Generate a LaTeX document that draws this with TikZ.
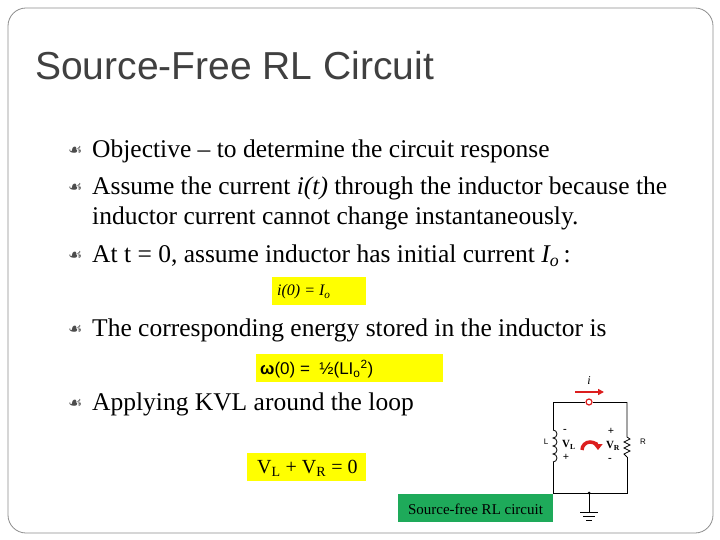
\documentclass[tikz,border=0pt]{standalone}
\usepackage{fontspec}
\setmainfont{Liberation Serif}
\newfontfamily\arial{Liberation Sans}
\newfontfamily\dejavu{DejaVu Sans}
\usetikzlibrary{arrows.meta}
\definecolor{hl}{RGB}{255,255,0}
\definecolor{grn}{RGB}{30,170,90}
\definecolor{wred}{RGB}{220,30,30}
\tikzset{
  txt/.style={anchor=west,inner sep=0,font=\fontsize{25.5}{30}\selectfont},
  bul/.style={anchor=west,inner sep=0,font=\dejavu\fontsize{16}{18}\selectfont,text=black!70},
  ybox/.style={fill=hl,draw=none,anchor=west,inner sep=0,minimum height=28pt},
  wire/.style={line width=0.8pt},
  lbl/.style={inner sep=0,font=\fontsize{11}{12}\selectfont\bfseries}
}
\begin{document}
\begin{tikzpicture}[x=1pt,y=-1pt]
\useasboundingbox (0,0) rectangle (720,540);
\draw[black!45,line width=0.8pt,rounded corners=18pt] (8,8) rectangle (713,533);
\node[anchor=west,inner sep=0,font=\arial\fontsize{39}{44}\selectfont,text=black!75] (title) at (35,66) {Source-Free RL Circuit};
\node[bul] (b1) at (68,151) {☙};
\node[txt] (t1) at (92,151) {Objective -- to determine the circuit response};
\node[bul] (b2) at (68,188) {☙};
\node[txt] (t2) at (92,188) {Assume the current \textit{i(t)} through the inductor because the};
\node[txt] (t2b) at (92,218) {inductor current cannot change instantaneously.};
\node[bul] (b3) at (68,256) {☙};
\node[txt] (t3) at (92,256) {At t = 0, assume inductor has initial current \textit{I\textsubscript{o}}\,:};
\node[ybox,minimum width=94pt] (y1) at (272,291) {};
\node[anchor=west,inner sep=0,font=\fontsize{16}{18}\selectfont] (e1) at (277,292) {\textit{i(0) = I\textsubscript{o}}};
\node[bul] (b4) at (68,330) {☙};
\node[txt] (t4) at (92,330) {The corresponding energy stored in the inductor is};
\node[ybox,minimum width=187pt] (y2) at (256,368) {};
\node[anchor=west,inner sep=0,font=\arial\fontsize{17}{19}\selectfont] (e2) at (260,369) {\textbf{ω}(0) =\ \ ½(LI\textsubscript{o}\textsuperscript{2})};
\node[bul] (b5) at (68,404) {☙};
\node[txt] (t5) at (92,404) {Applying KVL around the loop};
\node[ybox,minimum width=119pt] (y3) at (247,467) {};
\node[anchor=west,inner sep=0,font=\fontsize{20}{22}\selectfont] (e3) at (257,468) {V\textsubscript{L} + V\textsubscript{R} = 0};
\node[fill=grn,anchor=west,inner sep=0,minimum width=155pt,minimum height=28pt] (g) at (398,508) {};
\node[anchor=center,inner sep=0,font=\fontsize{15}{17}\selectfont] (gt) at (475.5,509) {Source-free RL circuit};
% circuit
\coordinate (tl) at (553,402); \coordinate (tr) at (627,402);
\coordinate (bl) at (553,493); \coordinate (br) at (627,493);
\coordinate (gnd) at (589,493); \coordinate (gb) at (589,512);
\node[circle,draw=wred,line width=1.2pt,fill=white,inner sep=0,minimum size=6pt] (sw) at (589,402) {};
\draw[wire] (tl) -- (sw) -- (tr);
\draw[wire] (tl) -- (553,430);
\draw[wire] (553,430) arc[start angle=270,end angle=450,radius=4] arc[start angle=270,end angle=450,radius=4] arc[start angle=270,end angle=450,radius=4] arc[start angle=270,end angle=450,radius=4];
\draw[wire] (553,462) -- (bl) -- (br) -- (627,457);
\draw[wire] (tr) -- (627,437) -- (630,439) -- (624,442) -- (630,445) -- (624,448) -- (630,451) -- (624,454) -- (627,457);
\fill (gnd) circle (1.5);
\draw[wire] (gnd) -- (gb);
\draw[wire] (580,512) -- (598,512) (583,516) -- (595,516) (586,520) -- (592,520);
\draw[wred,line width=2pt,-{Triangle[length=6pt,width=6pt]}] (575,392) -- (604,392);
\node[inner sep=0,font=\itshape\fontsize{12}{13}\selectfont] (ilab) at (589,381) {i};
\draw[wred,line width=3.5pt,-{Triangle[length=6pt,width=9pt]}] (582,450) arc[start angle=180,end angle=360,radius=8];
\node[inner sep=0,font=\fontsize{8}{9}\selectfont\arial] (L) at (546,442) {L};
\node[inner sep=0,font=\fontsize{8}{9}\selectfont\arial] (R) at (643,442) {R};
\node[lbl] (vl) at (569,445) {V\textsubscript{L}};
\node[lbl] (vr) at (613,446) {V\textsubscript{R}};
\node[lbl] (m1) at (565,431) {-};
\node[lbl] (p1) at (566,457) {+};
\node[lbl] (p2) at (611,431) {+};
\node[lbl] (m2) at (610,460) {-};
\end{tikzpicture}
\end{document}
